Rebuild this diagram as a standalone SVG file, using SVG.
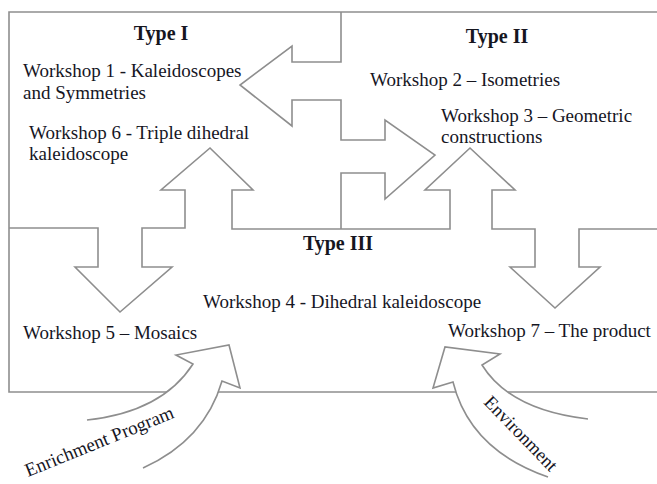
<svg xmlns="http://www.w3.org/2000/svg" width="657" height="484" viewBox="0 0 657 484">
<style>
.ln{fill:none;stroke:#8e8e8e;stroke-width:1.6;stroke-linejoin:miter}
.t{font-family:"Liberation Serif","Times New Roman",serif;font-size:19px;fill:#16161f}
.h{font-family:"Liberation Serif","Times New Roman",serif;font-size:20px;font-weight:bold;fill:#16161f}
.a{font-family:"Liberation Serif","Times New Roman",serif;font-size:19px;fill:#16161f}
</style>
<rect width="657" height="484" fill="#fff"/>
<g id="frame">
<path class="ln" d="M657,12 H9 V392 H657"/>
</g>
<g id="connectors">
<path id="arrows-I-II" class="ln" d="M341,12 V62 H292 V46 L240,85 L292,126 V100 H341 V140 H385 V120 L435,155 L385,199 V173 H341 V229"/>
<path id="arrows-I-III" class="ln" d="M341,229 H232 V190 H253 L210,148 L161,190 H185 V228 H142 V267 H172 L120,312 L75,267 H98 V228 H9"/>
<path id="arrows-II-III" class="ln" d="M341,229 H450 V190 H425 L470,148 L515,190 H492 V229 H535 V267 H510 L555,308 L600,267 H579 V229 H657"/>
<path id="enrichment-arrow" class="ln" style="fill:#fff" d="M87,420 Q162,412 193,364 L176,355 L229,345 L240,388 L222,381 Q205,440 143,468"/>
<path id="environment-arrow" class="ln" style="fill:#fff" d="M588,419 Q510,410 482,365 L500,354 L445,347 L433,388 L453,382 Q470,450 548,477"/>
</g>
<g id="type1">
<text class="h" x="161" y="40" text-anchor="middle">Type I</text>
<text class="t" x="23" y="77">Workshop 1 - Kaleidoscopes</text>
<text class="t" x="23" y="99">and Symmetries</text>
<text class="t" x="29" y="139">Workshop 6 - Triple dihedral</text>
<text class="t" x="29" y="160">kaleidoscope</text>
</g>
<g id="type2">
<text class="h" x="497" y="43" text-anchor="middle">Type II</text>
<text class="t" x="370" y="86">Workshop 2 – Isometries</text>
<text class="t" x="441" y="122">Workshop 3 – Geometric</text>
<text class="t" x="441" y="143">constructions</text>
</g>
<g id="type3">
<text class="h" x="338" y="250" text-anchor="middle">Type III</text>
<text class="t" x="203" y="308">Workshop 4 - Dihedral kaleidoscope</text>
<text class="t" x="23" y="339">Workshop 5 – Mosaics</text>
<text class="t" x="448" y="337">Workshop 7 – The product</text>
</g>
<g id="enrichment">
<text class="a" transform="translate(28,477) rotate(-22)">Enrichment Program</text>
</g>
<g id="environment">
<text class="a" style="font-size:18.5px" transform="translate(483,403) rotate(46)">Environment</text>
</g>
</svg>
